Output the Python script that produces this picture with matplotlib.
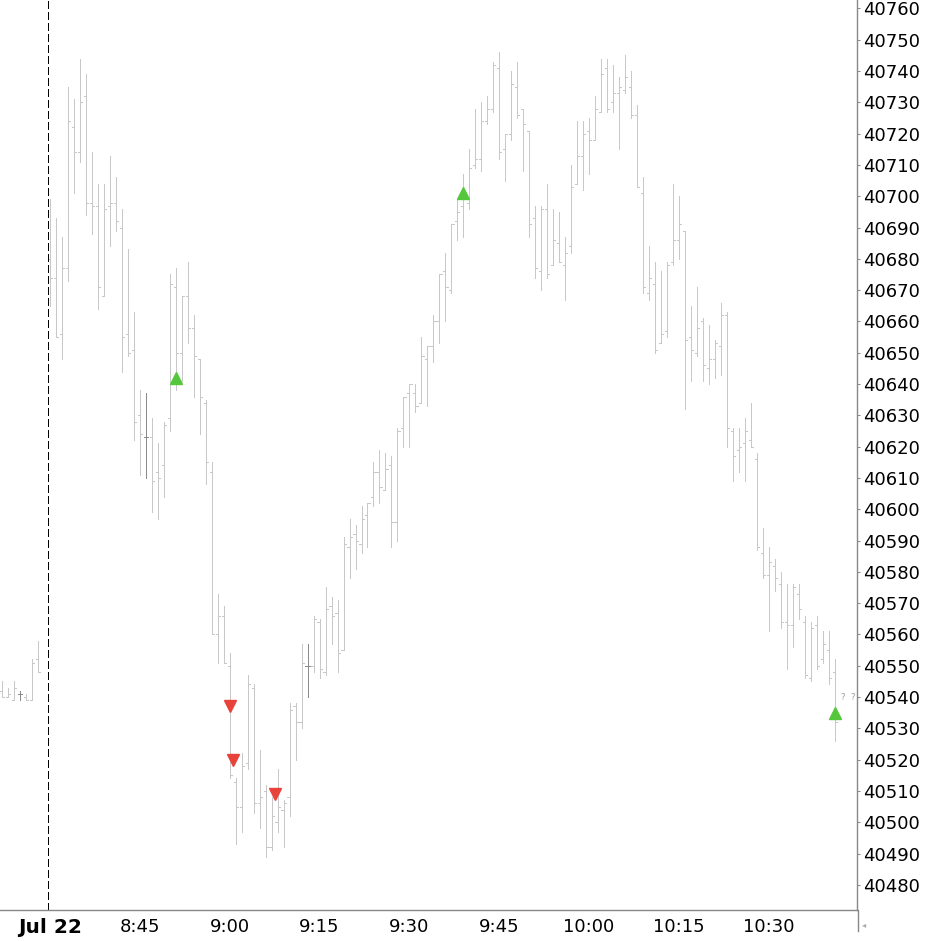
import matplotlib
matplotlib.use("Agg")
import matplotlib.pyplot as plt
from matplotlib.lines import Line2D
import numpy as np

# previous session tail (last 7 one-minute bars)
prev_x = [-8, -7, -6, -5, -4, -3, -2]
prev_o = [40542, 40540, 40539, 40541, 40540, 40539, 40552]
prev_h = [40545, 40543, 40545, 40542, 40541, 40552, 40558]
prev_l = [40540, 40540, 40539, 40539, 40539, 40539, 40548]
prev_c = [40540, 40541, 40543, 40541, 40539, 40551, 40548]

# Jul 22 session, one bar per minute from 8:30
opens = [40680, 40674, 40656, 40677, 40722, 40714, 40732, 40698, 40697, 40668,
         40697, 40698, 40690, 40656, 40651, 40630, 40623, 40623, 40612, 40614,
         40629, 40671, 40650, 40668, 40658, 40648, 40634, 40612, 40560, 40566,
         40550, 40513, 40505, 40519, 40543, 40506, 40510, 40492, 40500, 40504,
         40508, 40537, 40532, 40550, 40550, 40564, 40548, 40569, 40567, 40555,
         40588, 40592, 40589, 40598, 40604, 40612, 40606, 40614, 40596, 40626,
         40637, 40637, 40634, 40648, 40652, 40660, 40676, 40670, 40692, 40697,
         40698, 40710, 40712, 40724, 40728, 40741, 40715, 40720, 40735, 40728,
         40721, 40693, 40676, 40696, 40678, 40685, 40678, 40684, 40704, 40713,
         40721, 40718, 40727, 40741, 40730, 40733, 40734, 40735, 40726, 40701,
         40669, 40672, 40653, 40657, 40679, 40686, 40689, 40655, 40650, 40660,
         40645, 40648, 40652, 40662, 40625, 40619, 40621, 40622, 40616, 40586,
         40579, 40582, 40576, 40564, 40563, 40573, 40564, 40546, 40563, 40552,
         40555, 40548]
highs = [40699, 40693, 40687, 40735, 40731, 40744, 40739, 40714, 40704, 40704,
         40713, 40706, 40696, 40683, 40663, 40638, 40637, 40629, 40621, 40628,
         40675, 40677, 40668, 40679, 40662, 40648, 40635, 40615, 40573, 40569,
         40554, 40514, 40522, 40547, 40544, 40523, 40512, 40508, 40517, 40507,
         40538, 40538, 40557, 40557, 40566, 40565, 40575, 40572, 40571, 40591,
         40597, 40595, 40601, 40602, 40615, 40619, 40618, 40617, 40626, 40636,
         40640, 40640, 40655, 40652, 40662, 40675, 40682, 40691, 40699, 40707,
         40715, 40728, 40730, 40732, 40743, 40746, 40720, 40740, 40743, 40728,
         40721, 40697, 40697, 40704, 40696, 40695, 40687, 40710, 40724, 40724,
         40725, 40732, 40744, 40744, 40742, 40738, 40745, 40740, 40729, 40706,
         40684, 40679, 40676, 40679, 40704, 40700, 40689, 40665, 40671, 40661,
         40659, 40654, 40666, 40663, 40626, 40626, 40629, 40634, 40618, 40594,
         40588, 40584, 40580, 40576, 40576, 40576, 40566, 40564, 40566, 40561,
         40561, 40552]
lows = [40665, 40655, 40648, 40673, 40701, 40711, 40694, 40688, 40664, 40668,
        40684, 40689, 40644, 40649, 40622, 40611, 40610, 40599, 40597, 40604,
        40625, 40638, 40641, 40653, 40636, 40624, 40608, 40560, 40551, 40551,
        40514, 40493, 40497, 40517, 40503, 40498, 40489, 40491, 40497, 40492,
        40502, 40520, 40530, 40540, 40548, 40546, 40547, 40557, 40548, 40555,
        40578, 40581, 40586, 40588, 40601, 40602, 40606, 40588, 40590, 40620,
        40620, 40631, 40634, 40633, 40647, 40653, 40660, 40669, 40686, 40687,
        40696, 40709, 40708, 40723, 40727, 40712, 40705, 40718, 40725, 40708,
        40687, 40674, 40670, 40674, 40678, 40679, 40667, 40682, 40704, 40702,
        40707, 40718, 40727, 40727, 40727, 40715, 40733, 40725, 40703, 40669,
        40667, 40650, 40653, 40655, 40678, 40680, 40632, 40641, 40649, 40641,
        40640, 40642, 40643, 40620, 40609, 40612, 40609, 40620, 40587, 40578,
        40561, 40574, 40562, 40549, 40556, 40565, 40546, 40545, 40549, 40551,
        40544, 40526]
closes = [40674, 40655, 40677, 40724, 40714, 40730, 40698, 40697, 40671, 40696,
          40698, 40692, 40655, 40650, 40628, 40624, 40623, 40609, 40610, 40627,
          40672, 40650, 40668, 40658, 40649, 40636, 40615, 40560, 40566, 40551,
          40515, 40505, 40518, 40544, 40506, 40508, 40492, 40502, 40505, 40506,
          40536, 40532, 40551, 40550, 40565, 40549, 40568, 40566, 40554, 40589,
          40591, 40590, 40597, 40602, 40612, 40607, 40613, 40596, 40625, 40636,
          40640, 40633, 40649, 40652, 40660, 40675, 40671, 40691, 40695, 40699,
          40709, 40712, 40724, 40728, 40742, 40714, 40720, 40736, 40726, 40723,
          40691, 40677, 40696, 40675, 40686, 40679, 40682, 40703, 40713, 40720,
          40718, 40728, 40739, 40728, 40733, 40735, 40738, 40726, 40703, 40671,
          40674, 40651, 40656, 40678, 40686, 40691, 40654, 40651, 40658, 40646,
          40648, 40653, 40662, 40626, 40617, 40620, 40625, 40620, 40588, 40579,
          40583, 40578, 40564, 40563, 40575, 40568, 40547, 40562, 40550, 40557,
          40546, 40532]

# signal markers (bar index, price)
buy_x = [21, 69, 131]
buy_y = [40642, 40701, 40535]
sell_x = [30, 30.5, 37.5]
sell_y = [40537, 40520, 40509]

tick_pos = [0, 15, 30, 45, 60, 75, 90, 105, 120]
tick_lab = ["Jul 22", "8:45", "9:00", "9:15", "9:30", "9:45", "10:00", "10:15", "10:30"]
price_ticks = np.arange(40480, 40761, 10)

W, H = 927, 941
fig = plt.figure(figsize=(W / 100, H / 100), dpi=100)
ax = fig.add_axes([0, 31 / H, 857 / W, 910 / H])

x_all = np.array(prev_x + list(range(len(opens))), dtype=float)
o_all = np.array(prev_o + opens, dtype=float)
h_all = np.array(prev_h + highs, dtype=float)
l_all = np.array(prev_l + lows, dtype=float)
c_all = np.array(prev_c + closes, dtype=float)

# doji bars are drawn darker
cols = np.where(o_all == c_all, "#8a8a8a", "#c8c8c8")
lw = 0.6
ax.vlines(x_all, l_all, h_all, colors=cols, lw=lw, antialiased=False)
ax.hlines(o_all, x_all - 0.36, x_all, colors=cols, lw=lw, antialiased=False)
ax.hlines(c_all, x_all, x_all + 0.36, colors=cols, lw=lw, antialiased=False)

ax.axvline(-0.33, color="black", lw=0.6, ls=(0, (9, 4)), antialiased=False)

ax.plot(buy_x, buy_y, ls="none", marker="^", ms=9, color="#55c73c", mec="#55c73c")
ax.plot(sell_x, sell_y, ls="none", marker="v", ms=9, color="#e8433b", mec="#e8433b")
ax.text(132.3, 40540, "?", fontsize=6, color="#999999", ha="center", va="center")
ax.text(134.0, 40540, "?", fontsize=6, color="#999999", ha="center", va="center")

ax.set_xlim(-8.35, 134.72)
ax.set_ylim(40471.95, 40762.7)

for s in ["left", "top"]:
    ax.spines[s].set_visible(False)
for s in ["right", "bottom"]:
    ax.spines[s].set_color("#888888")
    ax.spines[s].set_linewidth(1.0)

ax.yaxis.tick_right()
ax.set_yticks(price_ticks)
ax.set_yticklabels([str(p) for p in price_ticks])
ax.tick_params(axis="y", direction="out", length=2.5, width=0.75, colors="#888888",
               labelcolor="black", labelsize=13, pad=2)
ax.set_xticks(tick_pos)
ax.set_xticklabels(tick_lab)
ax.tick_params(axis="x", length=0, labelsize=13, pad=6, labelcolor="black")
ax.get_xticklabels()[0].set_fontweight("bold")
ax.get_xticklabels()[0].set_fontsize(14.5)

# axis line continues below the time axis, with a small marker
fig.add_artist(Line2D([857.5 / W, 857.5 / W], [(H - 931) / H, 31 / H], color="#888888", lw=1.0))
fig.text(864 / W, (H - 925) / H, "\u25c2", fontsize=6, color="#aaaaaa", ha="center", va="center")

fig.savefig("out.png", dpi=100)
